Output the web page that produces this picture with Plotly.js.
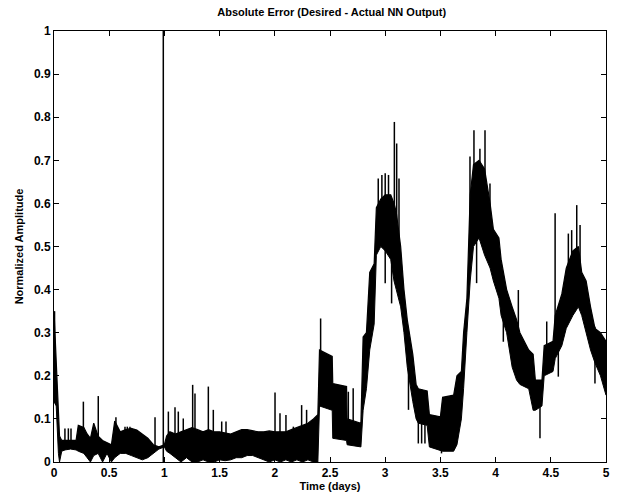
<!DOCTYPE html>
<html>
<head>
<meta charset="utf-8">
<script src="https://cdn.plot.ly/plotly-3.0.1.min.js"></script>
<style>html,body{margin:0;padding:0;background:#fff}#chart{width:620px;height:501px}</style>
</head>
<body>
<div id="chart"></div>
<script>
// Time (days) samples of the error band
const t  = [0.00,0.02,0.04,0.05,0.07,0.10,0.15,0.20,0.22,0.27,0.30,0.33,0.36,0.40,0.44,0.48,0.52,0.55,0.60,0.65,0.70,0.75,0.80,0.85,0.90,0.95,1.00,
            1.02,1.05,1.10,1.15,1.20,1.25,1.30,1.35,1.40,1.45,1.50,1.55,1.60,1.65,1.70,1.75,1.80,1.85,1.90,1.95,2.00,2.05,2.10,2.15,2.20,2.25,2.30,2.35,2.39,
            2.405,2.52,2.525,2.65,2.655,2.78,2.80,2.83,2.86,2.90,2.92,2.96,3.00,3.05,3.08,3.10,3.14,3.17,3.20,3.25,3.28,3.30,3.38,3.40,3.50,3.52,3.62,3.65,3.69,3.71,3.74,3.77,3.80,3.85,3.90,3.95,3.98,4.03,4.05,4.10,4.15,4.19,4.22,4.30,4.34,4.36,4.42,4.44,4.52,4.54,4.60,4.64,4.70,4.75,4.78,4.82,4.86,4.90,4.95,5.00];
// lower envelope of the band
const lo = [0.14,0.13,0.02,0.00,0.025,0.028,0.030,0.028,0.025,0.020,0.010,0.000,0.015,0.020,0.000,0.020,0.000,0.010,0.020,0.020,0.015,0.010,0.005,0.010,0.020,0.030,0.035,
            0.025,0.020,0.010,0.000,0.010,0.000,0.000,0.005,0.000,0.000,0.005,0.003,0.005,0.010,0.010,0.015,0.015,0.010,0.005,0.000,0.005,0.000,0.005,0.000,0.005,0.000,0.005,0.000,0.000,
            0.13,0.12,0.055,0.05,0.04,0.035,0.12,0.17,0.26,0.32,0.48,0.50,0.49,0.47,0.42,0.40,0.36,0.30,0.22,0.14,0.10,0.09,0.085,0.035,0.028,0.025,0.025,0.04,0.10,0.17,0.30,0.42,0.50,0.52,0.48,0.45,0.42,0.38,0.34,0.30,0.22,0.19,0.18,0.17,0.12,0.12,0.13,0.20,0.21,0.24,0.27,0.31,0.34,0.36,0.34,0.30,0.26,0.23,0.20,0.155];
// upper envelope of the band
const hi = [0.35,0.24,0.15,0.06,0.05,0.05,0.05,0.05,0.085,0.08,0.065,0.055,0.09,0.06,0.05,0.045,0.04,0.095,0.07,0.075,0.078,0.074,0.065,0.055,0.04,0.035,0.04,
            0.06,0.07,0.065,0.07,0.075,0.08,0.075,0.07,0.075,0.07,0.07,0.068,0.065,0.07,0.075,0.075,0.072,0.07,0.07,0.072,0.07,0.07,0.07,0.075,0.08,0.085,0.09,0.10,0.11,
            0.26,0.245,0.182,0.175,0.10,0.09,0.29,0.30,0.44,0.46,0.59,0.61,0.62,0.62,0.60,0.58,0.50,0.40,0.33,0.25,0.18,0.17,0.165,0.11,0.105,0.15,0.155,0.20,0.21,0.30,0.38,0.62,0.69,0.70,0.68,0.60,0.54,0.52,0.47,0.40,0.36,0.33,0.30,0.26,0.25,0.19,0.19,0.27,0.28,0.34,0.39,0.45,0.49,0.50,0.44,0.42,0.36,0.31,0.30,0.28];

// upward spikes (time, peak value)
const spikeUpT = [0.005,0.099,0.13,0.154,0.266,0.401,0.561,0.643,0.664,0.688,0.915,1.036,1.096,1.126,1.171,1.256,1.277,1.398,1.443,1.519,1.558,2.002,2.047,2.101,2.168,2.243,2.288,
                  2.415,2.666,2.71,2.937,2.97,3.0,3.03,3.083,3.104,3.125,3.768,3.804,3.858,3.904,3.949,4.206,4.463,4.539,4.659,4.689,4.735,4.765,4.90];
const spikeUpV = [0.35,0.078,0.078,0.078,0.140,0.153,0.104,0.082,0.082,0.082,0.104,0.117,0.127,0.117,0.101,0.179,0.159,0.175,0.121,0.094,0.094,0.161,0.113,0.109,0.082,0.132,0.121,
                  0.333,0.163,0.171,0.658,0.666,0.670,0.666,0.789,0.739,0.658,0.709,0.770,0.727,0.770,0.646,0.399,0.326,0.577,0.530,0.538,0.596,0.550,0.314];
// downward spikes (time, lowest value)
const spikeDnT = [3.0,3.058,3.211,3.30,3.33,3.36,3.51,3.828,4.07,4.176,4.402,4.568,4.90];
const spikeDnV = [0.415,0.368,0.121,0.043,0.043,0.043,0.02,0.415,0.279,0.206,0.055,0.198,0.182];
// full-height marker line near day 1
const markT = [0.99];
const markV = [1.0];

const xTicks = [0,0.5,1,1.5,2,2.5,3,3.5,4,4.5,5];
const xTickText = ['0','0.5','1','1.5','2','2.5','3','3.5','4','4.5','5'];
const yTicks = [0,0.1,0.2,0.3,0.4,0.5,0.6,0.7,0.8,0.9,1];
const yTickText = ['0','0.1','0.2','0.3','0.4','0.5','0.6','0.7','0.8','0.9','1'];

function bandMid(x){
  for(let i=0;i<t.length-1;i++){
    if(x>=t[i] && x<=t[i+1]){
      const f=(x-t[i])/(t[i+1]-t[i]||1);
      const l=lo[i]+(lo[i+1]-lo[i])*f, h=hi[i]+(hi[i+1]-hi[i])*f;
      return (l+h)/2;
    }
  }
  return (lo[lo.length-1]+hi[hi.length-1])/2;
}
function segs(T,V,fromBand){
  const xs=[],ys=[];
  T.forEach((x,i)=>{xs.push(x,x,null);ys.push(fromBand?bandMid(x):0,V[i],null);});
  return {xs,ys};
}
const up=segs(spikeUpT,spikeUpV,true);
const dn=segs(spikeDnT,spikeDnV,true);
const mk=segs(markT,markV,false);

const traces=[
  {x:t,y:lo,mode:'lines',line:{color:'#000',width:1},hoverinfo:'skip'},
  {x:t,y:hi,mode:'lines',fill:'tonexty',fillcolor:'#000',line:{color:'#000',width:1.2},hoverinfo:'skip'},
  {x:up.xs,y:up.ys,mode:'lines',line:{color:'#000',width:1.5},connectgaps:false,hoverinfo:'skip'},
  {x:dn.xs,y:dn.ys,mode:'lines',line:{color:'#000',width:1.5},connectgaps:false,hoverinfo:'skip'},
  {x:mk.xs,y:mk.ys,mode:'lines',line:{color:'#000',width:1.5},connectgaps:false,hoverinfo:'skip'}
];

const fnt={family:'Liberation Sans, Arial, sans-serif',color:'#000',weight:'bold'};
const layout={
  width:620,height:501,
  margin:{l:54,r:14,t:31,b:39},
  paper_bgcolor:'#fff',plot_bgcolor:'#fff',
  showlegend:false,
  title:{text:'Absolute Error (Desired - Actual NN Output)',font:Object.assign({size:11},fnt),x:0.535,xanchor:'center',y:0.975,yanchor:'middle'},
  xaxis:{range:[0,5],tickvals:xTicks,ticktext:xTickText,ticks:'inside',ticklen:5,tickcolor:'#000',
         showline:true,linecolor:'#000',linewidth:1,mirror:'ticks',showgrid:false,zeroline:false,
         tickfont:Object.assign({size:12},fnt),
         title:{text:'Time (days)',font:Object.assign({size:11},fnt),standoff:2}},
  yaxis:{range:[0,1],tickvals:yTicks,ticktext:yTickText,ticks:'inside',ticklen:5,tickcolor:'#000',
         showline:true,linecolor:'#000',linewidth:1,mirror:'ticks',showgrid:false,zeroline:false,
         tickfont:Object.assign({size:12},fnt),
         title:{text:'Normalized Amplitude',font:Object.assign({size:11},fnt),standoff:8}}
};
Plotly.newPlot('chart',traces,layout,{staticPlot:true,displayModeBar:false});
</script>
</body>
</html>
